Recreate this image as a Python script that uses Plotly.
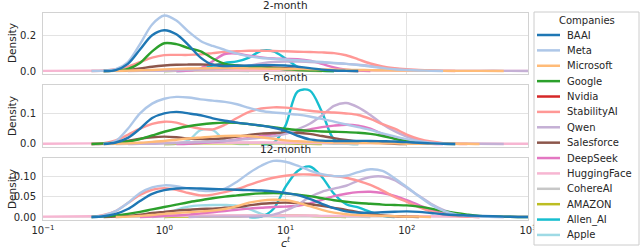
import plotly.graph_objects as go

# log10(c^t) sample positions shared by every curve
LOG_C = [-1.0,
         -0.6, -0.5, -0.4, -0.3, -0.2, -0.1,
         0.0, 0.1, 0.2, 0.3, 0.4, 0.5, 0.6, 0.7, 0.8, 0.9,
         1.0, 1.1, 1.2, 1.3, 1.4, 1.5, 1.6, 1.7, 1.8, 1.9,
         2.0, 2.1, 2.2, 2.3, 2.4, 2.5, 2.6, 2.8, 3.0]

COMPANIES = ["BAAI", "Meta", "Microsoft", "Google", "Nvidia", "StabilityAI", "Qwen",
             "Salesforce", "DeepSeek", "HuggingFace", "CohereAI", "AMAZON", "Allen_AI", "Apple"]
COLORS = ["#1f77b4", "#aec7e8", "#ffbb78", "#2ca02c", "#d62728", "#ff9896", "#c5b0d5",
          "#8c564b", "#e377c2", "#f7b6d2", "#c7c7c7", "#bcbd22", "#17becf", "#9edae5"]
PANEL_TITLES = ["2-month", "6-month", "12-month"]
X_TICKS = [0.1, 1, 10, 100, 1000]
X_TICK_TEXT = ["10<sup>−1</sup>", "10<sup>0</sup>", "10<sup>1</sup>", "10<sup>2</sup>", "10<sup>3</sup>"]
Y_TICKS = [[0.0, 0.2], [0.0, 0.1], [0.0, 0.05, 0.10]]
Y_TICK_TEXT = [["0.0", "0.2"], ["0.0", "0.1"], ["0.00", "0.05", "0.10"]]
Y_RANGES = [[-0.0167, 0.324], [-0.0098, 0.194], [-0.0074, 0.148]]

# ---- 2-month densities ----
BAAI_2M = [0, 0, 0, 0.005, 0.04, 0.12, 0.2, 0.228, 0.205, 0.145, 0.075, 0.035, 0.028, 0.029, 0.031, 0.032, 0.033, 0.031, 0.024, 0.016, 0.008, 0.003, 0.001, 0, 0, 0, 0, 0, 0, 0, 0, 0, 0, 0, 0, 0]
META_2M = [0, 0, 0.002, 0.01, 0.05, 0.15, 0.26, 0.31, 0.282, 0.22, 0.168, 0.14, 0.118, 0.097, 0.082, 0.073, 0.068, 0.064, 0.06, 0.055, 0.05, 0.045, 0.04, 0.033, 0.025, 0.017, 0.01, 0.006, 0.003, 0.001, 0, 0, 0, 0, 0, 0]
MICROSOFT_2M = [0, 0, 0, 0.001, 0.002, 0.004, 0.006, 0.009, 0.012, 0.014, 0.015, 0.016, 0.016, 0.016, 0.015, 0.014, 0.013, 0.012, 0.011, 0.01, 0.009, 0.008, 0.007, 0.006, 0.005, 0.004, 0.003, 0.002, 0.002, 0.001, 0.001, 0.001, 0.001, 0.001, 0, 0]
GOOGLE_2M = [0, 0, 0, 0.002, 0.012, 0.045, 0.11, 0.155, 0.15, 0.128, 0.11, 0.07, 0.04, 0.031, 0.025, 0.02, 0.015, 0.01, 0.006, 0.003, 0.001, 0, 0, 0, 0, 0, 0, 0, 0, 0, 0, 0, 0, 0, 0, 0]
NVIDIA_2M = [0, 0, 0, 0, 0, 0, 0, 0, 0, 0, 0, 0, 0, 0, 0, 0, 0, 0, 0, 0, 0, 0, 0, 0, 0, 0, 0, 0, 0, 0, 0, 0, 0, 0, 0, 0]
STABILITY_2M = [0, 0, 0.002, 0.01, 0.025, 0.05, 0.075, 0.089, 0.09, 0.09, 0.093, 0.1, 0.107, 0.11, 0.113, 0.113, 0.112, 0.11, 0.108, 0.106, 0.104, 0.1, 0.088, 0.065, 0.042, 0.026, 0.016, 0.01, 0.006, 0.003, 0.001, 0, 0, 0, 0, 0]
QWEN_2M = [0, 0, 0, 0, 0, 0.001, 0.001, 0.002, 0.004, 0.006, 0.008, 0.01, 0.012, 0.018, 0.03, 0.042, 0.05, 0.053, 0.053, 0.05, 0.047, 0.044, 0.04, 0.035, 0.028, 0.02, 0.013, 0.008, 0.004, 0.002, 0.001, 0.001, 0.001, 0.001, 0.001, 0]
SALESFORCE_2M = [0, 0, 0, 0.002, 0.006, 0.014, 0.024, 0.031, 0.035, 0.036, 0.036, 0.035, 0.033, 0.03, 0.027, 0.024, 0.02, 0.016, 0.012, 0.008, 0.005, 0.002, 0.001, 0, 0, 0, 0, 0, 0, 0, 0, 0, 0, 0, 0, 0]
DEEPSEEK_2M = [0, 0, 0, 0, 0, 0, 0, 0, 0, 0.002, 0.015, 0.055, 0.095, 0.098, 0.085, 0.076, 0.07, 0.068, 0.066, 0.058, 0.04, 0.02, 0.008, 0.002, 0, 0, 0, 0, 0, 0, 0, 0, 0, 0, 0, 0]
HUGGINGFACE_2M = [0.001, 0.002, 0.002, 0.003, 0.003, 0.003, 0.004, 0.004, 0.004, 0.004, 0.004, 0.004, 0.004, 0.004, 0.004, 0.004, 0.004, 0.004, 0.004, 0.004, 0.003, 0.003, 0.003, 0.003, 0.003, 0.002, 0.002, 0.002, 0.002, 0.002, 0.002, 0.001, 0.001, 0.001, 0.001, 0.001]
COHERE_2M = [0, 0, 0, 0, 0.001, 0.001, 0.002, 0.002, 0.003, 0.003, 0.003, 0.003, 0.003, 0.003, 0.003, 0.003, 0.003, 0.003, 0.002, 0.002, 0.002, 0.001, 0.001, 0, 0, 0, 0, 0, 0, 0, 0, 0, 0, 0, 0, 0]
AMAZON_2M = [0, 0, 0, 0, 0, 0, 0, 0, 0.001, 0.001, 0.002, 0.002, 0.002, 0.002, 0.002, 0.002, 0.002, 0.002, 0.001, 0.001, 0, 0, 0, 0, 0, 0, 0, 0, 0, 0, 0, 0, 0, 0, 0, 0]
ALLEN_2M = [0, 0, 0, 0, 0, 0, 0, 0, 0, 0.002, 0.01, 0.03, 0.045, 0.054, 0.075, 0.113, 0.11, 0.07, 0.024, 0.006, 0.001, 0, 0, 0, 0, 0, 0, 0, 0, 0, 0, 0, 0, 0, 0, 0]
APPLE_2M = [0, 0, 0, 0, 0, 0, 0, 0, 0.001, 0.002, 0.003, 0.003, 0.002, 0.001, 0, 0, 0, 0, 0, 0, 0, 0, 0, 0, 0, 0, 0, 0, 0, 0, 0, 0, 0, 0, 0, 0]

# ---- 6-month densities ----
BAAI_6M = [0, 0, 0, 0.005, 0.02, 0.05, 0.085, 0.1, 0.105, 0.1, 0.094, 0.084, 0.076, 0.07, 0.065, 0.06, 0.053, 0.043, 0.027, 0.015, 0.011, 0.01, 0.01, 0.01, 0.01, 0.009, 0.008, 0.006, 0.004, 0.002, 0.001, 0, 0, 0, 0, 0]
META_6M = [0, 0, 0, 0.01, 0.05, 0.1, 0.132, 0.148, 0.154, 0.152, 0.146, 0.142, 0.138, 0.13, 0.118, 0.108, 0.103, 0.1, 0.096, 0.09, 0.082, 0.073, 0.064, 0.055, 0.046, 0.035, 0.025, 0.016, 0.009, 0.004, 0.001, 0, 0, 0, 0, 0]
MICROSOFT_6M = [0, 0, 0, 0.001, 0.002, 0.004, 0.007, 0.01, 0.014, 0.018, 0.021, 0.024, 0.026, 0.027, 0.026, 0.022, 0.017, 0.012, 0.009, 0.007, 0.006, 0.005, 0.004, 0.003, 0.003, 0.002, 0.002, 0.001, 0.001, 0.001, 0.001, 0.001, 0.001, 0, 0, 0]
GOOGLE_6M = [0, 0, 0.002, 0.004, 0.008, 0.016, 0.028, 0.04, 0.05, 0.058, 0.064, 0.068, 0.07, 0.069, 0.065, 0.06, 0.055, 0.05, 0.046, 0.043, 0.041, 0.04, 0.039, 0.037, 0.033, 0.026, 0.017, 0.01, 0.005, 0.002, 0.001, 0, 0, 0, 0, 0]
NVIDIA_6M = [0, 0, 0, 0, 0, 0, 0, 0, 0, 0, 0, 0, 0, 0, 0, 0, 0, 0, 0, 0, 0, 0, 0, 0, 0, 0, 0, 0, 0, 0, 0, 0, 0, 0, 0, 0]
STABILITY_6M = [0, 0, 0.003, 0.012, 0.03, 0.05, 0.066, 0.073, 0.07, 0.058, 0.05, 0.048, 0.063, 0.085, 0.105, 0.116, 0.12, 0.119, 0.114, 0.109, 0.105, 0.103, 0.1, 0.095, 0.082, 0.065, 0.05, 0.031, 0.017, 0.008, 0.003, 0.001, 0, 0, 0, 0]
QWEN_6M = [0, 0, 0, 0, 0, 0.001, 0.001, 0.002, 0.003, 0.005, 0.006, 0.008, 0.01, 0.013, 0.017, 0.021, 0.025, 0.033, 0.048, 0.066, 0.093, 0.125, 0.134, 0.12, 0.095, 0.065, 0.042, 0.024, 0.012, 0.005, 0.002, 0.001, 0.001, 0.001, 0, 0]
SALESFORCE_6M = [0, 0, 0.001, 0.004, 0.01, 0.017, 0.022, 0.024, 0.022, 0.018, 0.016, 0.016, 0.019, 0.024, 0.03, 0.034, 0.036, 0.037, 0.037, 0.033, 0.026, 0.019, 0.013, 0.008, 0.005, 0.003, 0.001, 0, 0, 0, 0, 0, 0, 0, 0, 0]
DEEPSEEK_6M = [0, 0, 0, 0, 0, 0, 0, 0, 0, 0.001, 0.003, 0.006, 0.01, 0.015, 0.02, 0.026, 0.032, 0.037, 0.042, 0.048, 0.055, 0.06, 0.063, 0.06, 0.05, 0.033, 0.018, 0.008, 0.003, 0.001, 0, 0, 0, 0, 0, 0]
HUGGINGFACE_6M = [0.001, 0.002, 0.002, 0.003, 0.003, 0.003, 0.004, 0.004, 0.004, 0.004, 0.005, 0.005, 0.005, 0.005, 0.005, 0.005, 0.005, 0.005, 0.005, 0.004, 0.004, 0.004, 0.004, 0.003, 0.003, 0.003, 0.002, 0.002, 0.002, 0.002, 0.002, 0.001, 0.001, 0.001, 0.001, 0.001]
COHERE_6M = [0, 0, 0, 0, 0.001, 0.001, 0.002, 0.002, 0.003, 0.003, 0.003, 0.004, 0.004, 0.004, 0.004, 0.004, 0.003, 0.003, 0.003, 0.002, 0.002, 0.001, 0.001, 0, 0, 0, 0, 0, 0, 0, 0, 0, 0, 0, 0, 0]
AMAZON_6M = [0, 0, 0, 0, 0, 0, 0, 0, 0.001, 0.001, 0.002, 0.002, 0.002, 0.002, 0.002, 0.002, 0.002, 0.002, 0.001, 0.001, 0, 0, 0, 0, 0, 0, 0, 0, 0, 0, 0, 0, 0, 0, 0, 0]
ALLEN_6M = [0, 0, 0, 0, 0, 0, 0, 0, 0, 0, 0, 0, 0, 0, 0, 0, 0.003, 0.06, 0.172, 0.175, 0.105, 0.015, 0.001, 0, 0, 0, 0, 0, 0, 0, 0, 0, 0, 0, 0, 0]
APPLE_6M = [0, 0, 0, 0, 0, 0, 0, 0, 0.001, 0.012, 0.045, 0.045, 0.012, 0.001, 0, 0, 0, 0, 0, 0, 0, 0, 0, 0, 0, 0, 0, 0, 0, 0, 0, 0, 0, 0, 0, 0]

# ---- 12-month densities ----
BAAI_12M = [0, 0, 0.002, 0.008, 0.02, 0.04, 0.058, 0.067, 0.071, 0.072, 0.071, 0.07, 0.069, 0.068, 0.067, 0.066, 0.064, 0.06, 0.055, 0.045, 0.033, 0.022, 0.014, 0.011, 0.011, 0.012, 0.013, 0.014, 0.013, 0.01, 0.007, 0.005, 0.004, 0.003, 0.001, 0]
META_12M = [0, 0, 0.004, 0.015, 0.035, 0.06, 0.074, 0.079, 0.077, 0.071, 0.066, 0.065, 0.071, 0.088, 0.11, 0.128, 0.14, 0.138, 0.128, 0.116, 0.107, 0.102, 0.103, 0.112, 0.119, 0.115, 0.097, 0.075, 0.052, 0.031, 0.016, 0.007, 0.003, 0.001, 0, 0]
MICROSOFT_12M = [0, 0, 0, 0, 0.001, 0.003, 0.005, 0.008, 0.01, 0.012, 0.014, 0.016, 0.02, 0.027, 0.036, 0.041, 0.043, 0.042, 0.036, 0.027, 0.018, 0.011, 0.007, 0.005, 0.004, 0.003, 0.002, 0.001, 0.001, 0, 0, 0, 0, 0, 0, 0]
GOOGLE_12M = [0, 0, 0.002, 0.004, 0.008, 0.013, 0.019, 0.025, 0.031, 0.037, 0.042, 0.047, 0.051, 0.054, 0.057, 0.059, 0.06, 0.059, 0.056, 0.052, 0.047, 0.042, 0.038, 0.035, 0.033, 0.031, 0.03, 0.029, 0.026, 0.021, 0.015, 0.01, 0.006, 0.003, 0.001, 0]
NVIDIA_12M = [0, 0, 0, 0, 0, 0, 0, 0, 0, 0, 0, 0, 0, 0, 0, 0, 0, 0, 0, 0, 0, 0, 0, 0, 0, 0, 0, 0, 0, 0, 0, 0, 0, 0, 0, 0]
STABILITY_12M = [0, 0, 0.005, 0.015, 0.035, 0.055, 0.068, 0.072, 0.068, 0.06, 0.054, 0.056, 0.062, 0.07, 0.08, 0.09, 0.098, 0.103, 0.106, 0.106, 0.104, 0.102, 0.098, 0.09, 0.08, 0.066, 0.05, 0.038, 0.025, 0.014, 0.007, 0.003, 0.001, 0, 0, 0]
QWEN_12M = [0, 0, 0, 0, 0, 0, 0, 0, 0, 0, 0.001, 0.001, 0.001, 0.001, 0.001, 0.002, 0.006, 0.016, 0.03, 0.05, 0.063, 0.071, 0.078, 0.091, 0.1, 0.101, 0.092, 0.073, 0.053, 0.033, 0.018, 0.008, 0.003, 0.001, 0, 0]
SALESFORCE_12M = [0, 0, 0, 0.001, 0.003, 0.006, 0.01, 0.013, 0.016, 0.018, 0.02, 0.021, 0.023, 0.025, 0.029, 0.033, 0.035, 0.036, 0.035, 0.032, 0.028, 0.023, 0.018, 0.012, 0.007, 0.004, 0.002, 0.001, 0, 0, 0, 0, 0, 0, 0, 0]
DEEPSEEK_12M = [0, 0, 0, 0, 0, 0, 0.001, 0.003, 0.004, 0.006, 0.009, 0.012, 0.015, 0.018, 0.021, 0.023, 0.025, 0.026, 0.028, 0.034, 0.043, 0.052, 0.058, 0.062, 0.063, 0.06, 0.053, 0.042, 0.03, 0.018, 0.009, 0.004, 0.001, 0, 0, 0]
HUGGINGFACE_12M = [0.001, 0.002, 0.002, 0.003, 0.003, 0.003, 0.003, 0.004, 0.004, 0.004, 0.004, 0.004, 0.004, 0.004, 0.004, 0.004, 0.004, 0.004, 0.004, 0.004, 0.003, 0.003, 0.003, 0.003, 0.003, 0.003, 0.002, 0.002, 0.002, 0.002, 0.002, 0.001, 0.001, 0.001, 0.001, 0.001]
COHERE_12M = [0, 0, 0, 0, 0.001, 0.001, 0.002, 0.002, 0.003, 0.003, 0.003, 0.003, 0.004, 0.004, 0.004, 0.004, 0.004, 0.003, 0.003, 0.003, 0.002, 0.002, 0.001, 0.001, 0, 0, 0, 0, 0, 0, 0, 0, 0, 0, 0, 0]
AMAZON_12M = [0, 0, 0, 0, 0, 0, 0, 0, 0.001, 0.001, 0.001, 0.002, 0.002, 0.002, 0.003, 0.003, 0.004, 0.004, 0.004, 0.003, 0.002, 0.001, 0, 0, 0, 0, 0, 0, 0, 0, 0, 0, 0, 0, 0, 0]
ALLEN_12M = [0, 0, 0, 0, 0, 0, 0, 0, 0, 0, 0, 0, 0, 0, 0, 0.001, 0.02, 0.075, 0.115, 0.126, 0.1, 0.058, 0.032, 0.024, 0.013, 0.003, 0, 0, 0, 0, 0, 0, 0, 0, 0, 0]
APPLE_12M = [0, 0, 0, 0, 0, 0, 0, 0.005, 0.018, 0.026, 0.029, 0.03, 0.03, 0.028, 0.02, 0.008, 0.001, 0, 0, 0, 0, 0, 0, 0, 0, 0, 0, 0, 0, 0, 0, 0, 0, 0, 0, 0]

PANELS = [
    [BAAI_2M, META_2M, MICROSOFT_2M, GOOGLE_2M, NVIDIA_2M, STABILITY_2M, QWEN_2M,
     SALESFORCE_2M, DEEPSEEK_2M, HUGGINGFACE_2M, COHERE_2M, AMAZON_2M, ALLEN_2M, APPLE_2M],
    [BAAI_6M, META_6M, MICROSOFT_6M, GOOGLE_6M, NVIDIA_6M, STABILITY_6M, QWEN_6M,
     SALESFORCE_6M, DEEPSEEK_6M, HUGGINGFACE_6M, COHERE_6M, AMAZON_6M, ALLEN_6M, APPLE_6M],
    [BAAI_12M, META_12M, MICROSOFT_12M, GOOGLE_12M, NVIDIA_12M, STABILITY_12M, QWEN_12M,
     SALESFORCE_12M, DEEPSEEK_12M, HUGGINGFACE_12M, COHERE_12M, AMAZON_12M, ALLEN_12M, APPLE_12M],
]
for panel in PANELS:
    for series in panel:
        assert len(series) == len(LOG_C)

C_VALUES = [10 ** v for v in LOG_C]


def support(series):
    """Keep only the stretch where the density exists (plus one zero on each side)."""
    nz = [k for k, v in enumerate(series) if v > 0]
    if not nz:
        return [], []
    a, b = max(nz[0] - 1, 0), min(nz[-1] + 1, len(series) - 1)
    return C_VALUES[a:b + 1], series[a:b + 1]


# ---- layout geometry (pixels) ----
W, H = 640, 249
ML, MR, MT, MB = 43, 112, 13, 29
PW, PH = W - ML - MR, H - MT - MB
DOMAINS = [[0.7053, 1.0], [0.3527, 0.6536], [0.0, 0.301]]

def px_x(px):
    return (px - ML) / PW

def px_y(py):
    return (H - MB - py) / PH

TEXT = "#262626"
FONT = "DejaVu Sans"
GRID = "#e3e3e3"
FRAME = "#d2d2d2"

fig = go.Figure()
for p, panel in enumerate(PANELS):
    xa = "x" if p == 0 else "x%d" % (p + 1)
    ya = "y" if p == 0 else "y%d" % (p + 1)
    for i in reversed(range(len(COMPANIES))):
        xs, ys = support(panel[i])
        fig.add_trace(go.Scatter(
            x=xs, y=ys, mode="lines", name=COMPANIES[i],
            line=dict(color=COLORS[i], width=2.4, shape="spline", smoothing=0.9),
            xaxis=xa, yaxis=ya, showlegend=False, hoverinfo="skip"))

layout = dict(
    width=W, height=H, autosize=False,
    margin=dict(l=ML, r=MR, t=MT, b=MB, pad=0),
    paper_bgcolor="white", plot_bgcolor="white",
    font=dict(family=FONT, size=10, color=TEXT),
    showlegend=False,
)
for p in range(3):
    xk = "xaxis" if p == 0 else "xaxis%d" % (p + 1)
    yk = "yaxis" if p == 0 else "yaxis%d" % (p + 1)
    ya = "y" if p == 0 else "y%d" % (p + 1)
    xa = "x" if p == 0 else "x%d" % (p + 1)
    layout[xk] = dict(
        type="log", range=[-1, 3], domain=[0, 1], anchor=ya,
        tickvals=X_TICKS, ticktext=X_TICK_TEXT, showticklabels=(p == 2),
        ticks="outside", ticklen=1, tickcolor="rgba(0,0,0,0)",
        showgrid=True, gridcolor=GRID, gridwidth=1,
        showline=True, mirror=True, linecolor=FRAME, linewidth=1,
        zeroline=False, tickfont=dict(size=10, color=TEXT))
    layout[yk] = dict(
        domain=DOMAINS[p], range=Y_RANGES[p], anchor=xa,
        tickvals=Y_TICKS[p], ticktext=Y_TICK_TEXT[p],
        ticks="outside", ticklen=4, tickcolor="rgba(0,0,0,0)",
        showgrid=True, gridcolor=GRID, gridwidth=1,
        showline=True, mirror=True, linecolor=FRAME, linewidth=1,
        zeroline=False, tickfont=dict(size=10, color=TEXT))
fig.update_layout(**layout)

annotations = []
shapes = []
title_y = [5.0, 77.0, 149.0]
density_y = [43, 116, 189]
for p in range(3):
    annotations.append(dict(text=PANEL_TITLES[p], xref="paper", yref="paper", x=0.5, y=px_y(title_y[p]),
                            xanchor="center", yanchor="middle", showarrow=False,
                            font=dict(size=10.5, color=TEXT, family=FONT)))
    annotations.append(dict(text="Density", xref="paper", yref="paper", x=px_x(12), y=px_y(density_y[p]),
                            xanchor="center", yanchor="middle", showarrow=False, textangle=-90,
                            font=dict(size=10.5, color=TEXT, family=FONT)))
annotations.append(dict(text="<i>c</i><sup><i>t</i></sup>", xref="paper", yref="paper", x=0.5, y=px_y(242),
                        xanchor="center", yanchor="middle", showarrow=False,
                        font=dict(size=11, color=TEXT, family=FONT)))

# legend box (drawn by hand to match the compact matplotlib legend)
shapes.append(dict(type="rect", xref="paper", yref="paper", x0=px_x(534), x1=px_x(639),
                   y0=px_y(245), y1=px_y(12), line=dict(color="#cccccc", width=1),
                   fillcolor="white", layer="above"))
annotations.append(dict(text="Companies", xref="paper", yref="paper", x=px_x(586.5), y=px_y(20.5),
                        xanchor="center", yanchor="middle", showarrow=False,
                        font=dict(size=10, color=TEXT, family=FONT)))
for i, (name, color) in enumerate(zip(COMPANIES, COLORS)):
    yy = 35 + i * 15.38
    shapes.append(dict(type="line", xref="paper", yref="paper", x0=px_x(537), x1=px_x(560),
                       y0=px_y(yy), y1=px_y(yy), line=dict(color=color, width=2.5), layer="above"))
    annotations.append(dict(text=name, xref="paper", yref="paper", x=px_x(565), y=px_y(yy),
                            xanchor="left", yanchor="middle", showarrow=False,
                            font=dict(size=10, color=TEXT, family=FONT)))

fig.update_layout(annotations=annotations, shapes=shapes)
fig.write_html("out.html", config={"displayModeBar": False},
               post_script="document.body.style.margin='0px';document.body.style.overflow='hidden';")
